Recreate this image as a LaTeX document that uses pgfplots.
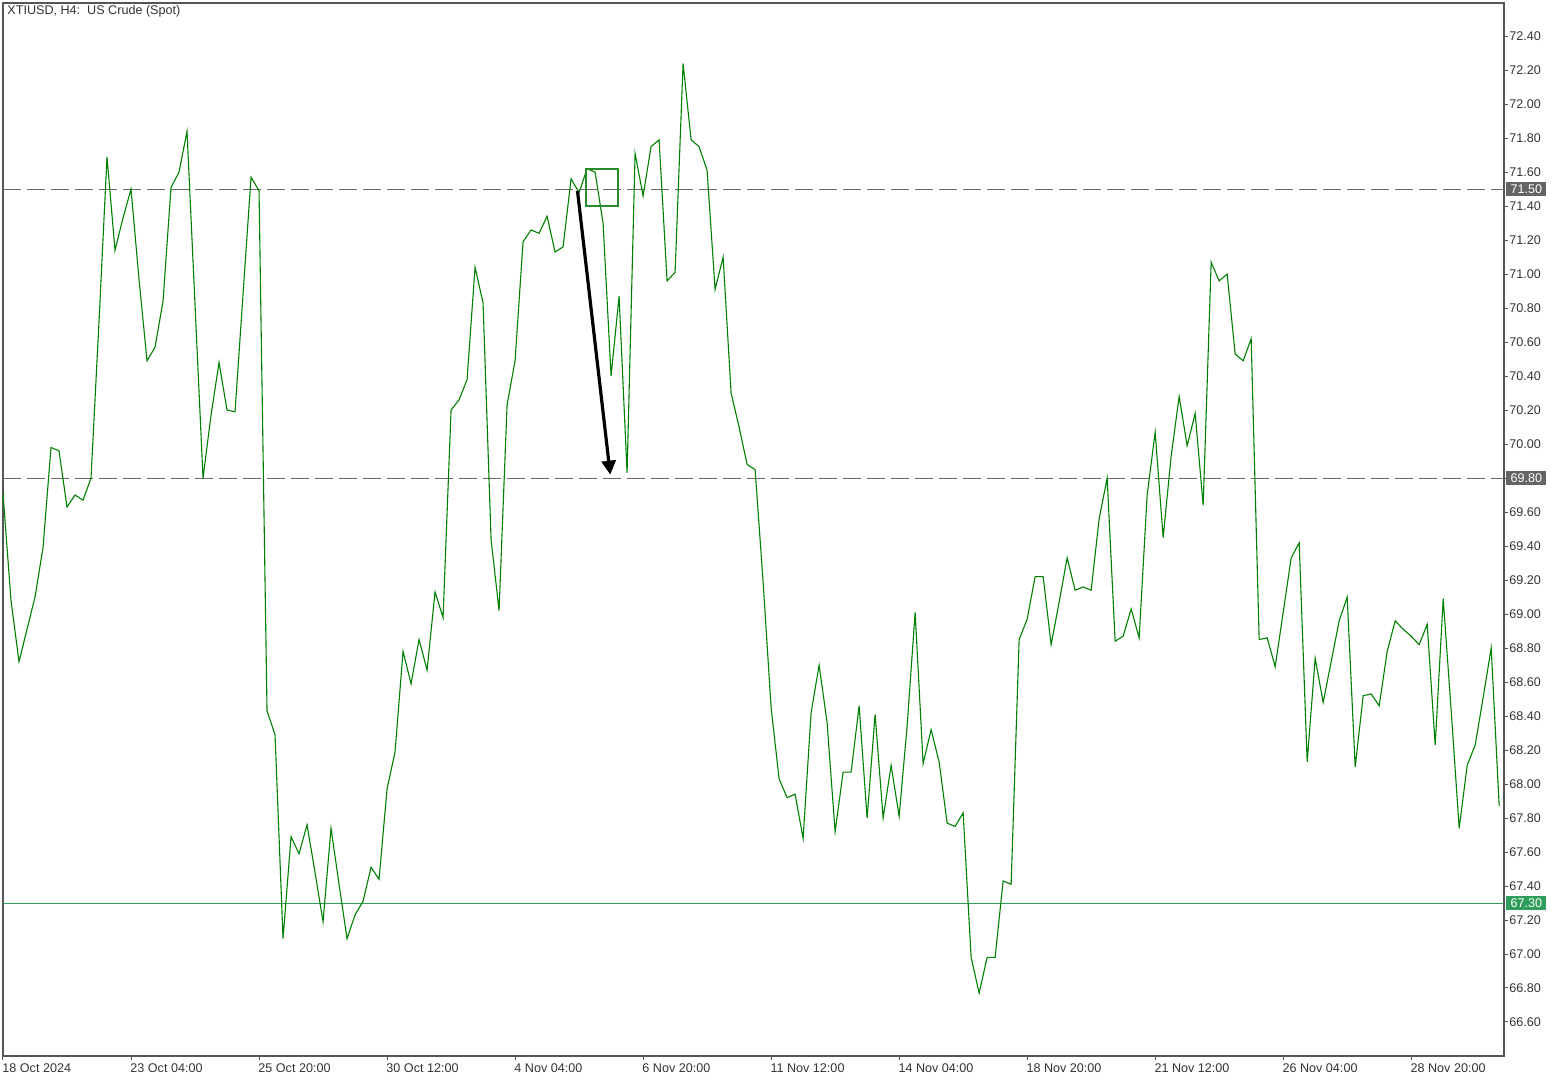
\documentclass[border=0pt]{standalone}
\usepackage{fontspec}
\setmainfont{Liberation Sans}
\usepackage{pgfplots}
\pgfplotsset{compat=1.18}
\usetikzlibrary{arrows.meta}
\definecolor{linegreen}{RGB}{0,128,0}
\definecolor{boxgreen}{RGB}{46,158,90}
\definecolor{axgray}{RGB}{85,85,85}
\definecolor{dashgray}{RGB}{105,105,105}
\definecolor{boxgray}{RGB}{100,100,100}
\definecolor{lblgray}{RGB}{51,51,51}
\definecolor{rectgreen}{RGB}{40,140,40}
\newcommand{\lblfont}{\fontsize{6.3}{7}\selectfont}
\pgfplotstableread{
i v
0 69.71
1 69.08
2 68.72
3 68.91
4 69.10
5 69.39
6 69.98
7 69.96
8 69.63
9 69.70
10 69.67
11 69.80
12 70.72
13 71.69
14 71.14
15 71.33
16 71.50
17 70.97
18 70.49
19 70.57
20 70.84
21 71.51
22 71.60
23 71.84
24 70.82
25 69.80
26 70.17
27 70.48
28 70.20
29 70.19
30 70.88
31 71.57
32 71.49
33 68.43
34 68.29
35 67.09
36 67.69
37 67.59
38 67.76
39 67.48
40 67.19
41 67.74
42 67.41
43 67.09
44 67.23
45 67.31
46 67.51
47 67.44
48 67.97
49 68.19
50 68.78
51 68.59
52 68.85
53 68.67
54 69.13
55 68.98
56 70.20
57 70.26
58 70.38
59 71.04
60 70.83
61 69.44
62 69.02
63 70.23
64 70.49
65 71.19
66 71.26
67 71.24
68 71.34
69 71.13
70 71.16
71 71.56
72 71.48
73 71.62
74 71.60
75 71.30
76 70.40
77 70.87
78 69.83
79 71.71
80 71.46
81 71.75
82 71.79
83 70.96
84 71.01
85 72.24
86 71.79
87 71.75
88 71.61
89 70.91
90 71.10
91 70.30
92 70.10
93 69.88
94 69.85
95 69.19
96 68.45
97 68.03
98 67.92
99 67.94
100 67.68
101 68.42
102 68.70
103 68.36
104 67.72
105 68.07
106 68.07
107 68.46
108 67.80
109 68.41
110 67.80
111 68.11
112 67.81
113 68.34
114 69.01
115 68.12
116 68.32
117 68.13
118 67.77
119 67.75
120 67.83
121 66.98
122 66.77
123 66.98
124 66.98
125 67.43
126 67.41
127 68.85
128 68.97
129 69.22
130 69.22
131 68.82
132 69.07
133 69.33
134 69.14
135 69.16
136 69.14
137 69.56
138 69.80
139 68.84
140 68.87
141 69.03
142 68.86
143 69.70
144 70.07
145 69.45
146 69.93
147 70.28
148 69.99
149 70.18
150 69.64
151 71.07
152 70.96
153 71.00
154 70.53
155 70.49
156 70.62
157 68.85
158 68.86
159 68.69
160 69.01
161 69.33
162 69.42
163 68.13
164 68.74
165 68.48
166 68.72
167 68.96
168 69.10
169 68.10
170 68.52
171 68.53
172 68.46
173 68.78
174 68.96
175 68.91
176 68.87
177 68.82
178 68.94
179 68.23
180 69.09
181 68.43
182 67.74
183 68.11
184 68.23
185 68.51
186 68.80
187 67.87
}\crude
\begin{document}
\begin{tikzpicture}[x=1pt,y=1pt]
\useasboundingbox (0,0) rectangle (780,540);
\begin{axis}[
  at={(1.5pt,12pt)}, anchor=south west,
  width=750.5pt, height=526.5pt, scale only axis,
  xmin=0, xmax=187.6, ymin=66.4, ymax=72.595,
  clip=false,
  axis line style={axgray, line width=0.8pt},
  tick style={axgray, line width=0.5pt},
  major tick length=2pt,
  tick align=outside,
  xtick pos=left, ytick pos=right,
  yticklabel pos=right,
  xtick={0,16,32,48,64,80,96,112,128,144,160,176},
  xticklabels={18 Oct 2024, 23 Oct 04:00, 25 Oct 20:00, 30 Oct 12:00, 4 Nov 04:00, 6 Nov 20:00, 11 Nov 12:00, 14 Nov 04:00, 18 Nov 20:00, 21 Nov 12:00, 26 Nov 04:00, 28 Nov 20:00},
  ytick={66.6,66.8,67.0,67.2,67.4,67.6,67.8,68.0,68.2,68.4,68.6,68.8,69.0,69.2,69.4,69.6,69.8,70.0,70.2,70.4,70.6,70.8,71.0,71.2,71.4,71.6,71.8,72.0,72.2,72.4},
  yticklabel style={anchor=west, font=\lblfont, text=lblgray, inner sep=0pt, xshift=0.5pt},
  xticklabel style={anchor=north west, font=\lblfont, text=lblgray, inner sep=0pt, xshift=-0.5pt, yshift=-1.5pt},
  /pgf/number format/.cd, fixed, fixed zerofill, precision=2, assume math mode=true,
]
\draw[dashgray, line width=0.5pt, dash pattern=on 9pt off 3pt] (axis cs:0,71.5) -- (axis cs:187.6,71.5);
\draw[dashgray, line width=0.5pt, dash pattern=on 9pt off 3pt] (axis cs:0,69.8) -- (axis cs:187.6,69.8);
\draw[boxgreen, line width=0.5pt] (axis cs:0,67.3) -- (axis cs:187.6,67.3);
\addplot[linegreen, line width=0.55pt, mark=none] table[x=i, y=v] {\crude};
\draw[rectgreen, line width=1pt] (axis cs:72.9,71.62) rectangle (axis cs:76.9,71.40);
\draw[black, line width=1.6pt, -{Triangle[width=7pt,length=7pt]}] (axis cs:71.8,71.49) -- (axis cs:75.9,69.82);
\node[fill=boxgray, text=white, anchor=west, inner sep=0pt, minimum width=20pt, minimum height=6.8pt, font=\lblfont, xshift=1pt] at (axis cs:187.6,71.5) {71.50};
\node[fill=boxgray, text=white, anchor=west, inner sep=0pt, minimum width=20pt, minimum height=6.8pt, font=\lblfont, xshift=1pt] at (axis cs:187.6,69.8) {69.80};
\node[fill=boxgreen, text=white, anchor=west, inner sep=0pt, minimum width=20pt, minimum height=6.8pt, font=\lblfont, xshift=1pt] at (axis cs:187.6,67.3) {67.30};
\end{axis}
\node[anchor=north west, inner sep=0pt, font=\lblfont, text=lblgray] at (3.5,537.5) {XTIUSD, H4:\ \ US Crude (Spot)};
\end{tikzpicture}
\end{document}
